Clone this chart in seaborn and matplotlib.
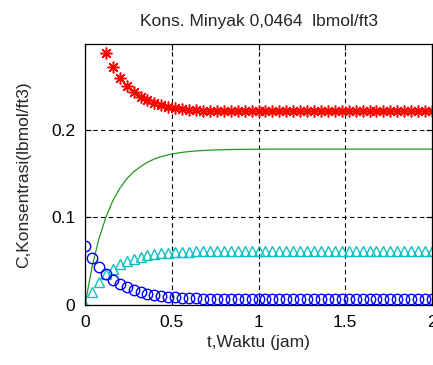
import matplotlib
matplotlib.use("Agg")
import matplotlib.pyplot as plt
import seaborn as sns

t = [0.00, 0.04, 0.08, 0.12, 0.16, 0.20, 0.24, 0.28, 0.32, 0.36,
     0.40, 0.44, 0.48, 0.52, 0.56, 0.60, 0.64, 0.68, 0.72, 0.76,
     0.80, 0.84, 0.88, 0.92, 0.96, 1.00, 1.04, 1.08, 1.12, 1.16,
     1.20, 1.24, 1.28, 1.32, 1.36, 1.40, 1.44, 1.48, 1.52, 1.56,
     1.60, 1.64, 1.68, 1.72, 1.76, 1.80, 1.84, 1.88, 1.92, 1.96, 2.00]

c_red = [0.390, 0.350, 0.315, 0.288, 0.272, 0.259, 0.250, 0.243, 0.238, 0.234,
         0.231, 0.228, 0.226, 0.225, 0.224, 0.223, 0.2225, 0.222, 0.2217, 0.2215,
         0.2214, 0.2213, 0.2212, 0.2211, 0.2211, 0.221, 0.221, 0.221, 0.221, 0.221,
         0.221, 0.221, 0.221, 0.221, 0.221, 0.221, 0.221, 0.221, 0.221, 0.221,
         0.221, 0.221, 0.221, 0.221, 0.221, 0.221, 0.221, 0.221, 0.221, 0.221, 0.221]

c_green = [0.000, 0.043, 0.0755, 0.100, 0.119, 0.133, 0.144, 0.152, 0.158, 0.163,
           0.1667, 0.1695, 0.1715, 0.173, 0.1743, 0.1752, 0.1759, 0.1764, 0.1768, 0.1771,
           0.1773, 0.1775, 0.1776, 0.1777, 0.1778, 0.1779, 0.1779, 0.178, 0.178, 0.178,
           0.178, 0.178, 0.178, 0.178, 0.178, 0.178, 0.178, 0.178, 0.178, 0.178,
           0.178, 0.178, 0.178, 0.178, 0.178, 0.178, 0.178, 0.178, 0.178, 0.178, 0.178]

c_cyan = [0.000, 0.0149, 0.0263, 0.0349, 0.0414, 0.0464, 0.0502, 0.053, 0.0552, 0.0568,
          0.0581, 0.059, 0.0597, 0.0603, 0.0607, 0.061, 0.0613, 0.0614, 0.0616, 0.0617,
          0.0618, 0.0619, 0.0619, 0.062, 0.062, 0.062, 0.062, 0.062, 0.062, 0.062,
          0.062, 0.062, 0.062, 0.062, 0.062, 0.062, 0.062, 0.062, 0.062, 0.062,
          0.062, 0.062, 0.062, 0.062, 0.062, 0.062, 0.062, 0.062, 0.062, 0.062, 0.062]

c_blue = [0.067, 0.0537, 0.0433, 0.0352, 0.0289, 0.0240, 0.0202, 0.0171, 0.0148, 0.0130,
          0.0116, 0.0105, 0.0096, 0.0089, 0.0084, 0.0080, 0.0076, 0.0074, 0.0072, 0.0070,
          0.0069, 0.0068, 0.0067, 0.0067, 0.0066, 0.0065, 0.0065, 0.0065, 0.0065, 0.0065,
          0.0065, 0.0065, 0.0065, 0.0065, 0.0065, 0.0065, 0.0065, 0.0065, 0.0065, 0.0065,
          0.0065, 0.0065, 0.0065, 0.0065, 0.0065, 0.0065, 0.0065, 0.0065, 0.0065, 0.0065, 0.0065]

x_ticks = [0, 0.5, 1, 1.5, 2]
x_tick_labels = ["0", "0.5", "1", "1.5", "2"]
y_ticks = [0, 0.1, 0.2]
y_tick_labels = ["0", "0.1", "0.2"]

title = "Kons. Minyak 0,0464  lbmol/ft3"
xlabel = "t,Waktu (jam)"
ylabel = "C,Konsentrasi(lbmol/ft3)"

sns.set_style("ticks")
plt.rcParams["font.family"] = ["Liberation Sans", "DejaVu Sans"]

fig = plt.figure(figsize=(4.33, 3.65), dpi=100)
ax = fig.add_axes([85 / 433, 60 / 365, 347 / 433, 261 / 365])

sns.lineplot(x=t, y=c_red, ax=ax, color="#ff0000", marker=(8, 2, 0),
             linestyle="none", markersize=8.5, markeredgewidth=1.1, markeredgecolor="#ff0000")
sns.lineplot(x=t, y=c_green, ax=ax, color="#229922", linewidth=0.9)
sns.lineplot(x=t, y=c_cyan, ax=ax, color="#10c0c0", marker="^", linestyle="none",
             markersize=7, markerfacecolor="none", markeredgecolor="#10c0c0",
             markeredgewidth=1.0)
sns.lineplot(x=t, y=c_blue, ax=ax, color="#0000ff", marker="o", linestyle="none",
             markersize=7.5, markerfacecolor="none", markeredgecolor="#0000ff",
             markeredgewidth=1.0)

ax.set_xlim(0, 2)
ax.set_ylim(0, 0.298)
ax.set_xticks(x_ticks)
ax.set_xticklabels(x_tick_labels)
ax.set_yticks(y_ticks)
ax.set_yticklabels(y_tick_labels)
ax.tick_params(direction="in", length=4, width=0.8, labelsize=12.5, pad=7,
               top=True, right=True, colors="black")
ax.grid(True, color="black", linestyle=(0, (4, 3)), linewidth=0.8)
for s in ax.spines.values():
    s.set_visible(True)
    s.set_color("black")
    s.set_linewidth(0.9)

ax.set_title(title, fontsize=12.5, pad=13)
ax.set_xlabel(xlabel, fontsize=12.5, labelpad=4)
ax.set_ylabel(ylabel, fontsize=12.5, labelpad=14)

fig.savefig("out.png", dpi=100)
